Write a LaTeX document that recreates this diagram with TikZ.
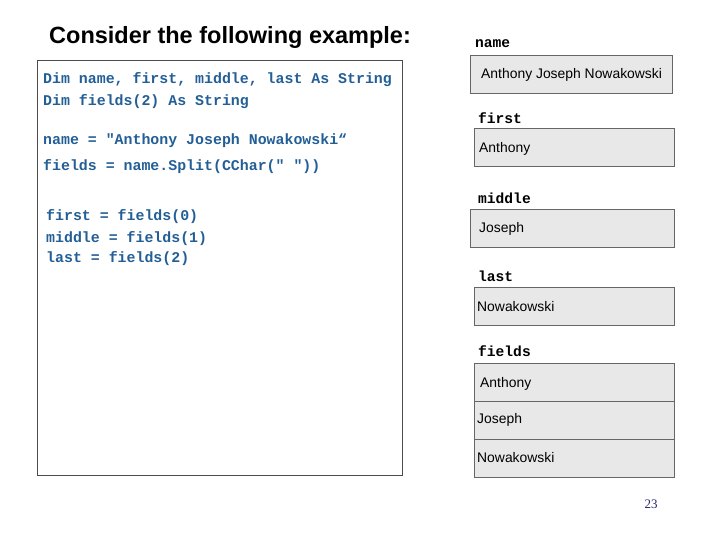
\documentclass[tikz,border=0pt]{standalone}
\usepackage{fontspec}
\setmainfont{Liberation Sans}
\setmonofont{Liberation Mono}
\newfontfamily\serifnum{Liberation Serif}
\definecolor{codec}{RGB}{35,95,150}
\definecolor{pgc}{RGB}{40,40,110}
\definecolor{cellg}{RGB}{232,232,232}
\begin{document}
\begin{tikzpicture}[x=1pt,y=-1pt,
  code/.style={anchor=west,inner sep=0,font=\ttfamily\bfseries\fontsize{14.9}{16}\selectfont,text=codec},
  lbl/.style={anchor=west,inner sep=0,font=\ttfamily\bfseries\fontsize{14.6}{16}\selectfont},
  cell/.style={draw=black!60,fill=cellg,line width=0.8pt},
  ctext/.style={anchor=west,inner sep=0,font=\fontsize{13.9}{15}\selectfont}]
\useasboundingbox (0,0) rectangle (720,540);
\node[inner sep=0,anchor=west,font=\bfseries\fontsize{23.5}{26}\selectfont] (title) at (49,37) {Consider the following example:};
\draw[black!70,line width=0.8pt] (37,60) rectangle (402,475);
\node[code] (c1) at (43,80) {Dim name, first, middle, last As String};
\node[code] (c2) at (43,102) {Dim fields(2) As String};
\node[code] (c3) at (43,141) {name = "Anthony Joseph Nowakowski“};
\node[code] (c4) at (43,167) {fields = name.Split(CChar(" "))};
\node[code] (c5) at (46,217) {first = fields(0)};
\node[code] (c6) at (46,239) {middle = fields(1)};
\node[code] (c7) at (46,259) {last = fields(2)};
\node[lbl] (l1) at (475,44) {name};
\draw[cell] (470,55) rectangle (672,93);
\node[ctext] (t1) at (481,75) {Anthony Joseph Nowakowski};
\node[lbl] (l2) at (478,118) {first};
\draw[cell] (474,128) rectangle (674,166);
\node[ctext] (t2) at (479,149) {Anthony};
\node[lbl] (l3) at (478,198) {middle};
\draw[cell] (470,209) rectangle (674,247);
\node[ctext] (t3) at (479,229) {Joseph};
\node[lbl] (l4) at (478,276) {last};
\draw[cell] (474,287) rectangle (674,325);
\node[ctext] (t4) at (477,307) {Nowakowski};
\node[lbl] (l5) at (478,351) {fields};
\draw[cell] (474,363) rectangle (674,401);
\draw[cell] (474,401) rectangle (674,439);
\draw[cell] (474,439) rectangle (674,477);
\node[ctext] (t5) at (480,384) {Anthony};
\node[ctext] (t6) at (477,420) {Joseph};
\node[ctext] (t7) at (477,458) {Nowakowski};
\node[inner sep=0,font=\serifnum\fontsize{13}{15}\selectfont,text=pgc] (pg) at (651,504) {23};
\end{tikzpicture}
\end{document}
